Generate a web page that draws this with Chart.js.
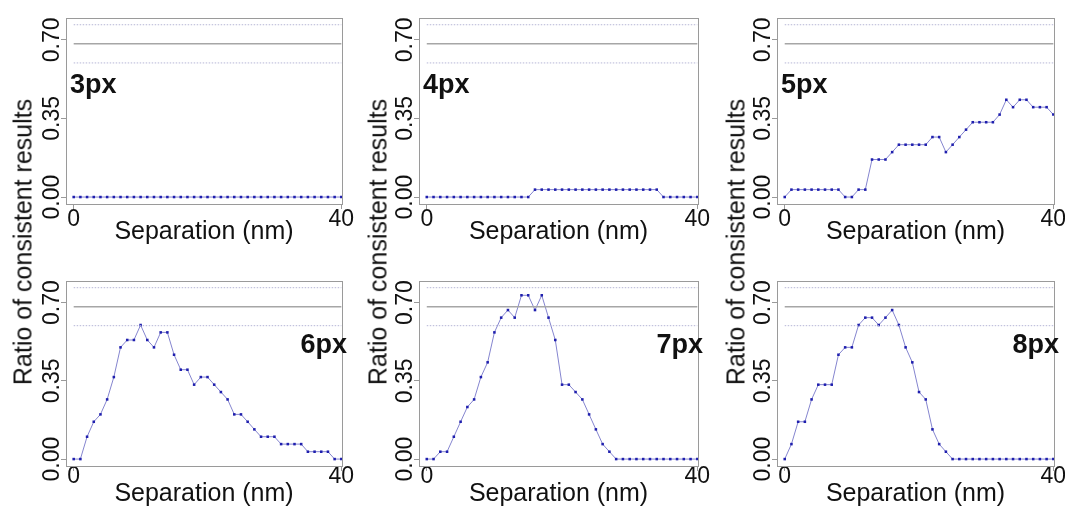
<!DOCTYPE html>
<html>
<head>
<meta charset="utf-8">
<title>Ratio of consistent results vs separation</title>
<script src="https://cdn.jsdelivr.net/npm/chart.js@4.4.0/dist/chart.umd.min.js"></script>
<style>
  html, body { margin: 0; padding: 0; background: #fff; }
  #wrap { position: relative; width: 1065px; height: 506px; overflow: hidden;
          font-family: "Liberation Sans", Arial, sans-serif; }
  .cell { position: absolute; }
  .ytitle { position: absolute; font-size: 25px; color: #111; white-space: nowrap;
            transform: translate(-50%, -50%) rotate(-90deg); }
</style>
</head>
<body>
<div id="wrap">
  <div class="cell" style="left:0;top:0"><canvas id="c3" width="355" height="253"></canvas></div>
  <div class="cell" style="left:355px;top:0"><canvas id="c4" width="355" height="253"></canvas></div>
  <div class="cell" style="left:710px;top:0"><canvas id="c5" width="355" height="253"></canvas></div>
  <div class="cell" style="left:0;top:253px"><canvas id="c6" width="355" height="263"></canvas></div>
  <div class="cell" style="left:355px;top:253px"><canvas id="c7" width="355" height="263"></canvas></div>
  <div class="cell" style="left:710px;top:253px"><canvas id="c8" width="355" height="263"></canvas></div>
  <div class="ytitle" style="left:23px;top:242px">Ratio of consistent results</div>
  <div class="ytitle" style="left:378px;top:242px">Ratio of consistent results</div>
  <div class="ytitle" style="left:736px;top:242px">Ratio of consistent results</div>
</div>
<script>
// separation in nm
var separation = [0, 1, 2, 3, 4, 5, 6, 7, 8, 9, 10, 11, 12, 13, 14, 15, 16, 17, 18, 19, 20,
                  21, 22, 23, 24, 25, 26, 27, 28, 29, 30, 31, 32, 33, 34, 35, 36, 37, 38, 39, 40];

var ratio3px = [0, 0, 0, 0, 0, 0, 0, 0, 0, 0, 0, 0, 0, 0, 0, 0, 0, 0, 0, 0, 0,
                0, 0, 0, 0, 0, 0, 0, 0, 0, 0, 0, 0, 0, 0, 0, 0, 0, 0, 0, 0];
var ratio4px = [0, 0, 0, 0, 0, 0, 0, 0, 0, 0, 0, 0, 0, 0, 0, 0, 0.033, 0.033, 0.033, 0.033, 0.033,
                0.033, 0.033, 0.033, 0.033, 0.033, 0.033, 0.033, 0.033, 0.033, 0.033, 0.033, 0.033, 0.033, 0.033, 0, 0, 0, 0, 0, 0];
var ratio5px = [0, 0.033, 0.033, 0.033, 0.033, 0.033, 0.033, 0.033, 0.033, 0, 0, 0.033, 0.033, 0.167, 0.167, 0.167, 0.2, 0.233, 0.233, 0.233, 0.233,
                0.233, 0.267, 0.267, 0.2, 0.233, 0.267, 0.3, 0.333, 0.333, 0.333, 0.333, 0.367, 0.433, 0.4, 0.433, 0.433, 0.4, 0.4, 0.4, 0.367];
var ratio6px = [0, 0, 0.1, 0.167, 0.2, 0.267, 0.367, 0.5, 0.533, 0.533, 0.6, 0.533, 0.5, 0.567, 0.567, 0.467, 0.4, 0.4, 0.333, 0.367, 0.367,
                0.333, 0.3, 0.267, 0.2, 0.2, 0.167, 0.133, 0.1, 0.1, 0.1, 0.067, 0.067, 0.067, 0.067, 0.033, 0.033, 0.033, 0.033, 0, 0];
var ratio7px = [0, 0, 0.033, 0.033, 0.1, 0.167, 0.233, 0.267, 0.367, 0.433, 0.567, 0.633, 0.667, 0.633, 0.733, 0.733, 0.667, 0.733, 0.633, 0.533, 0.333,
                0.333, 0.3, 0.267, 0.2, 0.133, 0.067, 0.033, 0, 0, 0, 0, 0, 0, 0, 0, 0, 0, 0, 0, 0];
var ratio8px = [0, 0.067, 0.167, 0.167, 0.267, 0.333, 0.333, 0.333, 0.467, 0.5, 0.5, 0.6, 0.633, 0.633, 0.6, 0.633, 0.667, 0.6, 0.5, 0.433, 0.3,
                0.267, 0.133, 0.067, 0.033, 0, 0, 0, 0, 0, 0, 0, 0, 0, 0, 0, 0, 0, 0, 0, 0];

var panelNames = ['3px', '4px', '5px', '6px', '7px', '8px'];
var xTickValues = [0, 40];
var yTickValues = [0, 0.35, 0.70];
var refMean = 0.682;
var refUpper = 0.767;
var refLower = 0.597;

var FONT = '"Liberation Sans", Arial, sans-serif';
var AXIS_GREY = '#9a9a9a';

// plot box, tick labels rotated like base R graphics, panel tag
var decorPlugin = {
  id: 'decor',
  afterDraw: function (chart) {
    var ctx = chart.ctx, a = chart.chartArea, o = chart.options.plugins.decor;
    ctx.save();
    ctx.strokeStyle = AXIS_GREY;
    ctx.lineWidth = 1;
    ctx.strokeRect(Math.round(a.left) + 0.5, Math.round(a.top) + 0.5,
                   Math.round(a.right - a.left), Math.round(a.bottom - a.top));

    var ys = chart.scales.y;
    ctx.fillStyle = '#111';
    ctx.font = '23px ' + FONT;
    ctx.textAlign = 'center';
    ctx.textBaseline = 'alphabetic';
    ys.ticks.forEach(function (t) {
      var py = ys.getPixelForValue(t.value);
      ctx.save();
      ctx.translate(a.left - 7.5, py);
      ctx.rotate(-Math.PI / 2);
      ctx.fillText(t.value.toFixed(2), 0, 0);
      ctx.restore();
    });

    ctx.font = 'bold 27px ' + FONT;
    if (o.tagRight) {
      ctx.textAlign = 'right';
      ctx.fillText(o.tag, a.right + 5, a.top + 72);
    } else {
      ctx.textAlign = 'left';
      ctx.fillText(o.tag, a.left + 4, a.top + 75);
    }
    ctx.restore();
  }
};

function pts(values) {
  return separation.map(function (x, i) { return { x: x, y: values[i] }; });
}
function hline(v) {
  return [{ x: separation[0], y: v }, { x: separation[separation.length - 1], y: v }];
}

function makePanel(id, values, col, row) {
  var leftW = [66, 64, 67][col];
  var rightPad = [13, 12, 11][col];
  var topPad = [18, 28][row];
  var xAxisH = [49, 50][row];
  var tickPad = [-3, -8][row];
  var titlePad = [6, 7][row];

  var canvas = document.getElementById(id);
  var existing = Chart.getChart(canvas);
  if (existing) existing.destroy();

  new Chart(canvas, {
    type: 'line',
    data: {
      datasets: [
        { data: hline(refUpper), borderColor: '#b6b6d6', borderWidth: 1, borderDash: [1.5, 1.5], pointRadius: 0 },
        { data: hline(refMean), borderColor: '#a6a6a6', borderWidth: 1.5, pointRadius: 0 },
        { data: hline(refLower), borderColor: '#b6b6d6', borderWidth: 1, borderDash: [1.5, 1.5], pointRadius: 0 },
        {
          data: pts(values),
          borderColor: '#8585cf',
          borderWidth: 1,
          tension: 0,
          pointStyle: 'rect',
          pointRadius: 1.8,
          pointBorderWidth: 0,
          pointBackgroundColor: '#1f1fae'
        }
      ]
    },
    options: {
      responsive: false,
      animation: false,
      layout: { padding: { top: topPad, right: rightPad, left: 0, bottom: 0 } },
      plugins: {
        legend: { display: false },
        tooltip: { enabled: false },
        decor: { tag: panelNames[row * 3 + col], tagRight: row === 1 }
      },
      scales: {
        x: {
          type: 'linear',
          min: -1.15,
          max: 40.1,
          afterBuildTicks: function (s) { s.ticks = xTickValues.map(function (v) { return { value: v }; }); },
          afterFit: function (s) { s.height = xAxisH; },
          border: { display: false },
          grid: { drawOnChartArea: false, color: AXIS_GREY, tickLength: 5 },
          ticks: { color: '#111', font: { size: 23, family: FONT }, padding: tickPad, maxRotation: 0, autoSkip: false },
          title: {
            display: true,
            text: 'Separation (nm)',
            color: '#111',
            font: { size: 25, family: FONT },
            padding: { top: 0, bottom: titlePad }
          }
        },
        y: {
          min: -0.031,
          max: 0.797,
          afterBuildTicks: function (s) { s.ticks = yTickValues.map(function (v) { return { value: v }; }); },
          afterFit: function (s) { s.width = leftW; },
          border: { display: false },
          grid: { drawOnChartArea: false, color: AXIS_GREY, tickLength: 5 },
          ticks: { display: false }
        }
      }
    },
    plugins: [decorPlugin]
  });
}

makePanel('c3', ratio3px, 0, 0);
makePanel('c4', ratio4px, 1, 0);
makePanel('c5', ratio5px, 2, 0);
makePanel('c6', ratio6px, 0, 1);
makePanel('c7', ratio7px, 1, 1);
makePanel('c8', ratio8px, 2, 1);
</script>
</body>
</html>
